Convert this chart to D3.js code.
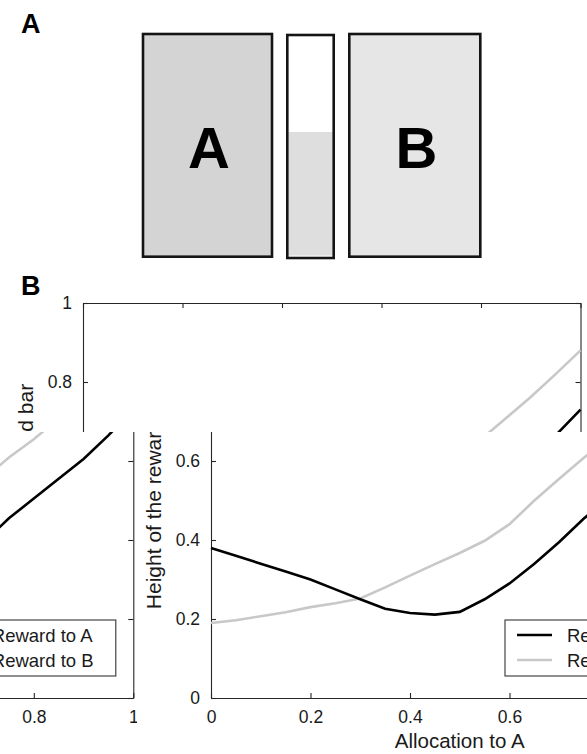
<!DOCTYPE html>
<html>
<head>
<meta charset="utf-8">
<script src="https://cdn.jsdelivr.net/npm/d3@7"></script>
<style>
  html, body { margin: 0; padding: 0; background: #fff; }
  svg { display: block; }
  text { font-family: "Liberation Sans", Arial, Helvetica, sans-serif; }
</style>
</head>
<body>
<svg id="fig" width="587" height="754"></svg>
<script>
// ---------------- data ----------------
const allocation = [0, 0.05, 0.1, 0.15, 0.2, 0.25, 0.3, 0.35, 0.4, 0.45, 0.5,
                    0.55, 0.6, 0.65, 0.7, 0.75, 0.8, 0.85, 0.9, 0.95, 1.0];
const rewardA = [0.38, 0.36, 0.34, 0.32, 0.30, 0.275, 0.25, 0.226, 0.215, 0.211, 0.218,
                 0.25, 0.29, 0.34, 0.395, 0.455, 0.505, 0.555, 0.605, 0.665, 0.73];
const rewardB = [0.19, 0.197, 0.207, 0.217, 0.23, 0.24, 0.252, 0.28, 0.31, 0.339, 0.367,
                 0.398, 0.44, 0.5, 0.555, 0.609, 0.655, 0.708, 0.762, 0.82, 0.88];
const seriesNames = ["Reward to A", "Reward to B"];
const xTicks = [0, 0.2, 0.4, 0.6, 0.8, 1];
const xTickLabels = ["0", "0.2", "0.4", "0.6", "0.8", "1"];
const yTicks = [0, 0.2, 0.4, 0.6, 0.8, 1];
const yTickLabels = ["0", "0.2", "0.4", "0.6", "0.8", "1"];
const xLabel = "Allocation to A";
const yLabel = "Height of the reward bar";
const barFill = 0.565; // fraction of middle bar filled (panel A)

const svg = d3.select("#fig");

// ---------------- Panel A ----------------
svg.append("text").attr("x", 21).attr("y", 32.5)
  .attr("font-size", 27).attr("font-weight", "bold").text("A");

const pa = svg.append("g");
pa.append("rect").attr("x", 143).attr("y", 34).attr("width", 129).attr("height", 222.7)
  .attr("fill", "#d4d4d4").attr("stroke", "#141414").attr("stroke-width", 2.6);
pa.append("text").attr("x", 209).attr("y", 168.3).attr("text-anchor", "middle")
  .attr("font-size", 58).attr("font-weight", "bold").text("A");

const mbX = 287.3, mbY = 35, mbW = 46.4, mbH = 223;
pa.append("rect").attr("x", mbX).attr("y", mbY).attr("width", mbW).attr("height", mbH)
  .attr("fill", "#fff");
const fillTop = mbY + mbH * (1 - barFill);
pa.append("rect").attr("x", mbX + 1).attr("y", fillTop).attr("width", mbW - 2)
  .attr("height", mbY + mbH - 2.5 - fillTop).attr("fill", "#dedede");
pa.append("rect").attr("x", mbX).attr("y", mbY).attr("width", mbW).attr("height", mbH)
  .attr("fill", "none").attr("stroke", "#141414").attr("stroke-width", 2.6);

pa.append("rect").attr("x", 349.3).attr("y", 34).attr("width", 131).attr("height", 222.7)
  .attr("fill", "#e6e6e6").attr("stroke", "#141414").attr("stroke-width", 2.6);
pa.append("text").attr("x", 416.5).attr("y", 168.3).attr("text-anchor", "middle")
  .attr("font-size", 58).attr("font-weight", "bold").text("B");

// ---------------- Panel B ----------------
svg.append("text").attr("x", 21).attr("y", 295)
  .attr("font-size", 27).attr("font-weight", "bold").text("B");

const x = d3.scaleLinear().domain([0, 1]).range([83, 580.5]);
const y = d3.scaleLinear().domain([0, 1]).range([698, 303]);

function drawChart(g) {
  const axCol = "#262626";
  const tickFmt = (arr, labels) => d => labels[arr.indexOf(d)];

  const bottom = g.append("g").attr("transform", `translate(0,${y(0)})`)
    .call(d3.axisBottom(x).tickValues(xTicks).tickFormat(tickFmt(xTicks, xTickLabels))
      .tickSizeInner(-5).tickSizeOuter(0).tickPadding(13));
  const left = g.append("g").attr("transform", `translate(${x(0)},0)`)
    .call(d3.axisLeft(y).tickValues(yTicks).tickFormat(tickFmt(yTicks, yTickLabels))
      .tickSizeInner(-5).tickSizeOuter(0).tickPadding(11));
  const top = g.append("g").attr("transform", `translate(0,${y(1)})`)
    .call(d3.axisTop(x).tickValues(xTicks).tickFormat("").tickSizeInner(-5).tickSizeOuter(0));
  const right = g.append("g").attr("transform", `translate(${x(1)},0)`)
    .call(d3.axisRight(y).tickValues(yTicks).tickFormat("").tickSizeInner(-5).tickSizeOuter(0));

  [bottom, left, top, right].forEach(a => {
    a.selectAll("path.domain").attr("stroke", axCol).attr("stroke-width", 1.1);
    a.selectAll(".tick line").attr("stroke", axCol).attr("stroke-width", 1.1);
    a.selectAll(".tick text").attr("fill", "#1a1a1a").attr("font-size", 17.5)
      .attr("font-family", "'Liberation Sans', Arial, Helvetica, sans-serif");
  });

  const line = d3.line().x((d, i) => x(allocation[i])).y(d => y(d));
  g.append("path").datum(rewardB).attr("d", line).attr("fill", "none")
    .attr("stroke", "#c8c8c8").attr("stroke-width", 2.6);
  g.append("path").datum(rewardA).attr("d", line).attr("fill", "none")
    .attr("stroke", "#000").attr("stroke-width", 2.6);

  // labels
  g.append("text").attr("x", (x(0) + x(1)) / 2).attr("y", 748.3)
    .attr("text-anchor", "middle").attr("font-size", 20.5).attr("fill", "#1a1a1a").text(xLabel);
  g.append("text").attr("transform", `translate(32.7,${(y(0) + y(1)) / 2 - 4}) rotate(-90)`)
    .attr("text-anchor", "middle").attr("font-size", 21).attr("fill", "#1a1a1a").text(yLabel);

  // legend
  const lg = g.append("g");
  lg.append("rect").attr("x", 377).attr("y", 620).attr("width", 186).attr("height", 56)
    .attr("fill", "#fff").attr("stroke", "#333").attr("stroke-width", 1.1);
  const cols = ["#000", "#c8c8c8"];
  seriesNames.forEach((name, i) => {
    const yy = 635 + i * 25;
    lg.append("line").attr("x1", 389).attr("x2", 424).attr("y1", yy).attr("y2", yy)
      .attr("stroke", cols[i]).attr("stroke-width", 2.6);
    lg.append("text").attr("x", 439).attr("y", yy + 6.5).attr("font-size", 18.5)
      .attr("fill", "#1a1a1a").text(name);
  });
}

// Reproduce the figure's tiled (wrapped) rendering below the break line
const defs = svg.append("defs");
const breakY = 432, seam = 137;
defs.append("clipPath").attr("id", "clipTop").append("rect")
  .attr("x", 0).attr("y", 260).attr("width", 587).attr("height", breakY - 260);
defs.append("clipPath").attr("id", "clipBR").append("rect")
  .attr("x", seam).attr("y", breakY).attr("width", 587 - seam).attr("height", 754 - breakY);
defs.append("clipPath").attr("id", "clipBL").append("rect")
  .attr("x", 0).attr("y", breakY).attr("width", seam).attr("height", 754 - breakY);

const gTop = svg.append("g").attr("clip-path", "url(#clipTop)").append("g");
drawChart(gTop);
const gBR = svg.append("g").attr("clip-path", "url(#clipBR)").append("g")
  .attr("transform", "translate(128,0)");
drawChart(gBR);
const gBL = svg.append("g").attr("clip-path", "url(#clipBL)").append("g")
  .attr("transform", "translate(-447.2,0)");
drawChart(gBL);
</script>
</body>
</html>
